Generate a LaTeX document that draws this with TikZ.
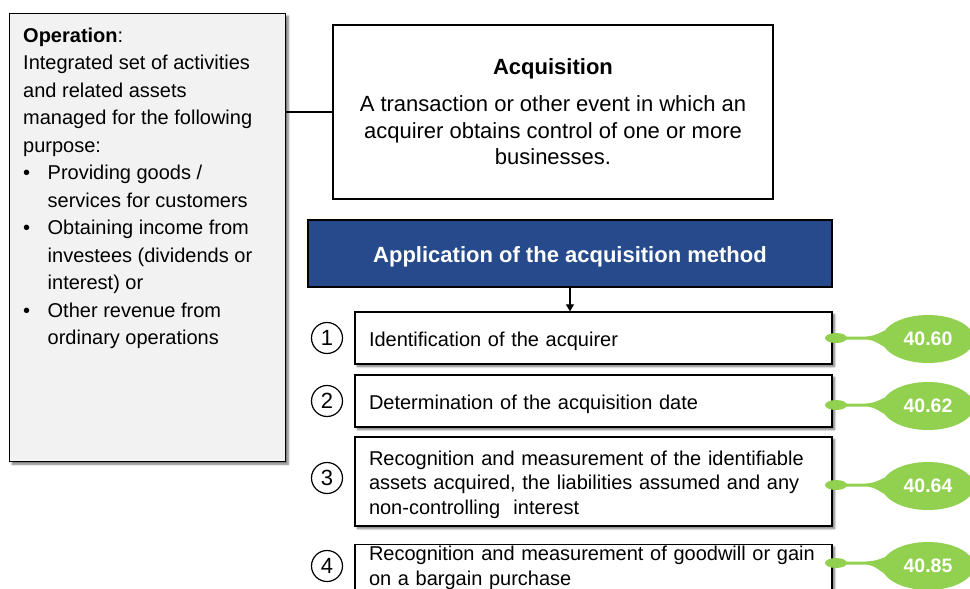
\documentclass[tikz,border=0pt]{standalone}
\usepackage{fontspec}
\setmainfont{Liberation Sans}
\usetikzlibrary{shapes.geometric,shadows.blur,arrows.meta}
\definecolor{opgray}{HTML}{F2F2F2}
\definecolor{navy}{RGB}{38,74,140}
\definecolor{leaf}{HTML}{92D050}

\begin{document}
\begin{tikzpicture}[x=1pt,y=-1pt,
  frame/.style={draw=black, line width=1.3pt},
  shade/.style={blur shadow={shadow xshift=2.5pt, shadow yshift=-2.5pt,
      shadow blur steps=6, shadow blur radius=2pt, shadow opacity=55}},
  stepbox/.style={frame, shade, fill=white, minimum width=477pt,
      text width=449pt, inner xsep=14pt, inner ysep=0pt, align=left,
      font=\fontsize{20}{24.5}\selectfont},
  lowered/.style={text height=21pt},
  numcircle/.style={circle, draw=black, line width=1.2pt, minimum size=31pt,
      inner sep=0pt, font=\fontsize{22}{24}\selectfont},
  badge/.style={ellipse, fill=leaf, minimum width=92pt, minimum height=48pt,
      inner sep=0pt, text=white, font=\fontsize{19.5}{20}\selectfont\bfseries},
  link/.style={draw=black, line width=1.2pt}
]
\path[use as bounding box] (0,0) rectangle (970,589);
\clip (0,0) rectangle (970,589);

% definition of an operation
\node[frame, shade, fill=opgray, minimum width=276pt, minimum height=448pt,
      inner sep=0pt, anchor=north west] (op) at (9,13) {};
\node[anchor=north west, align=left, inner sep=0pt,
      font=\fontsize{20}{27.5}\selectfont] (optext) at (23,27.5)
  {\textbf{Operation}:\\
   Integrated set of activities\\
   and related assets\\
   managed for the following\\
   purpose:\\
   \makebox[24.5pt][l]{\textbullet}Providing goods /\\
   \hspace*{24.5pt}services for customers\\
   \makebox[24.5pt][l]{\textbullet}Obtaining income from\\
   \hspace*{24.5pt}investees (dividends or\\
   \hspace*{24.5pt}interest) or\\
   \makebox[24.5pt][l]{\textbullet}Other revenue from\\
   \hspace*{24.5pt}ordinary operations};

% definition of an acquisition
\node[frame, fill=white, minimum width=440pt, minimum height=174pt,
      align=center, font=\fontsize{22}{26.5}\selectfont] (acq) at (553,112)
  {\textbf{Acquisition}\\[10.5pt]
   A transaction or other event in which an\\
   acquirer obtains control of one or more\\
   businesses.};

\draw[link] (acq.west) -- (acq.west -| op.east);

% method header
\node[frame, fill=navy, minimum width=524pt, minimum height=67pt,
      text height=22pt, text=white, font=\fontsize{22}{24}\selectfont\bfseries]
  (method) at (570,253.5) {Application of the acquisition method};

% steps of the method
\node[stepbox, lowered, minimum height=52pt] (s1) at (593.5,338)
  {Identification of the acquirer};
\node[stepbox, lowered, minimum height=52pt] (s2) at (593.5,401)
  {Determination of the acquisition date};
\node[stepbox, lowered, minimum height=89pt] (s3) at (593.5,481.5)
  {Recognition and measurement of the identifiable\\
   assets acquired, the liabilities assumed and any\\
   non-controlling\ \ interest};
\node[stepbox, minimum height=47pt] (s4) at (593.5,568)
  {\mbox{Recognition and measurement of goodwill or gain}\\
   on a bargain purchase};

\draw[link, -{Triangle[length=7pt,width=8pt]}] (method.south) -- (method.south |- s1.north);

% step numbers
\node[numcircle] (c1) at (327,338) {1};
\node[numcircle] (c2) at (327,401) {2};
\node[numcircle] (c3) at (327,478) {3};
\node[numcircle] (c4) at (327,566) {4};

% paragraph references
\foreach \i/\y/\ly/\num in {1/339/338/40.60, 2/406/405/40.62,
                            3/486/485/40.64, 4/566/563/40.85}{
  \coordinate (lobe\i) at (836,\ly);
  \node[badge] (badge\i) at (928,\y) {\num};
  \fill[leaf] (lobe\i) ellipse [x radius=11, y radius=5];
  \fill[leaf] (844,{\ly-1.5}) -- (866,{\ly-1.5})
     .. controls (876,{\ly-2}) and (881,{\y-7}) .. (892,{\y-12})
     -- (892,{\y+12})
     .. controls (881,{\y+7}) and (876,{\ly+2}) .. (866,{\ly+1.5})
     -- (844,{\ly+1.5}) -- cycle;
}
\end{tikzpicture}
\end{document}
